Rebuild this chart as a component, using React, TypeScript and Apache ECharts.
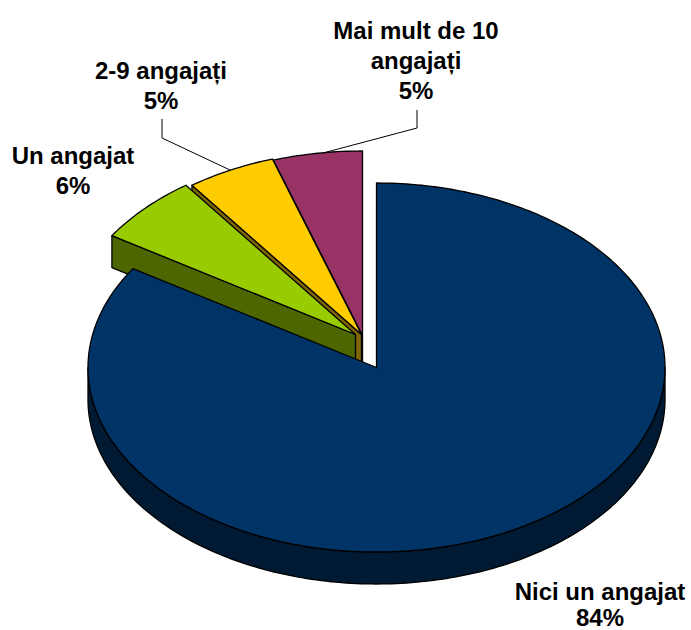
import React, { useEffect, useRef } from 'react';
import * as echarts from 'echarts';

// ---- data ----
const categories = ['Nici un angajat', 'Un angajat', '2-9 angajați', 'Mai mult de 10\nangajați'];
const values = [84, 6, 5, 5];

// ---- styles ----
const topColors = ['#003366', '#99cc00', '#ffcc00', '#993366'];
const sideColors = ['#001a33', '#4d6600', '#806600', '#4d1a33'];
const EXPLODE = [[0, 0], [-21, -33], [-15, -33], [-14, -32]];
const LABEL_POS = [[600, 604], [73, 170], [161, 85], [416, 60]];
const LINE_HEIGHTS = [26, 30, 30, 30];
const CX = 376.5;
const CY = 367.5;
const RX = 288.5;
const RY = 184.5;
const DEPTH = 32;
const DRAW_ORDER = [3, 2, 1, 0];

export default function App() {
  const ref = useRef<HTMLDivElement>(null);
  useEffect(() => {
    const chart = echarts.init(ref.current!, null, { renderer: 'svg' });
    const total = values.reduce((a, b) => a + b, 0);
    const starts: number[] = [];
    let cum = 0;
    values.forEach((v) => {
      starts.push(cum);
      cum += v;
    });
    const deg = Math.PI / 180;

    const renderItem = (params: any, api: any) => {
      const i = api.value(0) as number;
      const v = api.value(1) as number;
      const tStart = 90 - (starts[i] / total) * 360;
      const tEnd = 90 - ((starts[i] + v) / total) * 360;
      const [ox, oy] = EXPLODE[i];
      const cx = CX + ox;
      const cy = CY + oy;
      const P = (t: number, dz = 0) => [cx + RX * Math.cos(t * deg), cy - RY * Math.sin(t * deg) + dz];
      const arc = (a: number, b: number, dz: number) => {
        const pts: number[][] = [];
        const n = Math.max(2, Math.ceil(Math.abs(b - a)));
        for (let k = 0; k <= n; k++) pts.push(P(a + ((b - a) * k) / n, dz));
        return pts;
      };
      const st = (fill: string) => ({ fill, stroke: '#000', lineWidth: 1.3, lineJoin: 'round' });
      const children: any[] = [];
      for (let k = -2; k <= 1; k++) {
        const lo = Math.max(tEnd, 180 + 360 * k);
        const hi = Math.min(tStart, 360 + 360 * k);
        if (hi > lo) {
          children.push({
            type: 'polygon',
            shape: { points: [...arc(lo, hi, 0), ...arc(hi, lo, DEPTH)] },
            style: st(sideColors[i]),
          });
        }
      }
      const face = (t: number) => ({
        type: 'polygon',
        shape: { points: [[cx, cy], P(t), P(t, DEPTH), [cx, cy + DEPTH]] },
        style: st(sideColors[i]),
      });
      if (Math.cos(tEnd * deg) > 1e-6) children.push(face(tEnd));
      if (Math.cos(tStart * deg) < -1e-6) children.push(face(tStart));
      children.push({
        type: 'polygon',
        shape: { points: [[cx, cy], ...arc(tEnd, tStart, 0)] },
        style: st(topColors[i]),
      });
      return { type: 'group', children };
    };

    const font = '"Liberation Sans", Arial, sans-serif';
    chart.setOption({
      animation: false,
      backgroundColor: '#ffffff',
      series: [
        {
          type: 'custom',
          coordinateSystem: 'none',
          silent: true,
          renderItem,
          data: DRAW_ORDER.map((i) => [i, values[i]]),
          z: 2,
        },
      ],
      graphic: [
        {
          type: 'polyline',
          z: 10,
          shape: { points: [[162, 119], [162, 138], [230, 170]] },
          style: { stroke: '#000', lineWidth: 1, fill: null },
        },
        {
          type: 'polyline',
          z: 10,
          shape: { points: [[417, 110], [417, 128], [323, 153]] },
          style: { stroke: '#000', lineWidth: 1, fill: null },
        },
        ...categories.map((c, i) => ({
          type: 'text',
          z: 10,
          x: LABEL_POS[i][0],
          y: LABEL_POS[i][1],
          style: {
            text: c + '\n' + Math.round((values[i] / total) * 100) + '%',
            fontFamily: font,
            fontWeight: 'bold',
            fontSize: 24,
            fill: '#000',
            align: 'center',
            verticalAlign: 'middle',
            textAlign: 'center',
            textVerticalAlign: 'middle',
            lineHeight: LINE_HEIGHTS[i],
          },
        })),
      ],
    });
    return () => chart.dispose();
  }, []);
  return <div ref={ref} style={{ position: 'fixed', left: 0, top: 0, width: 691, height: 630 }} />;
}
